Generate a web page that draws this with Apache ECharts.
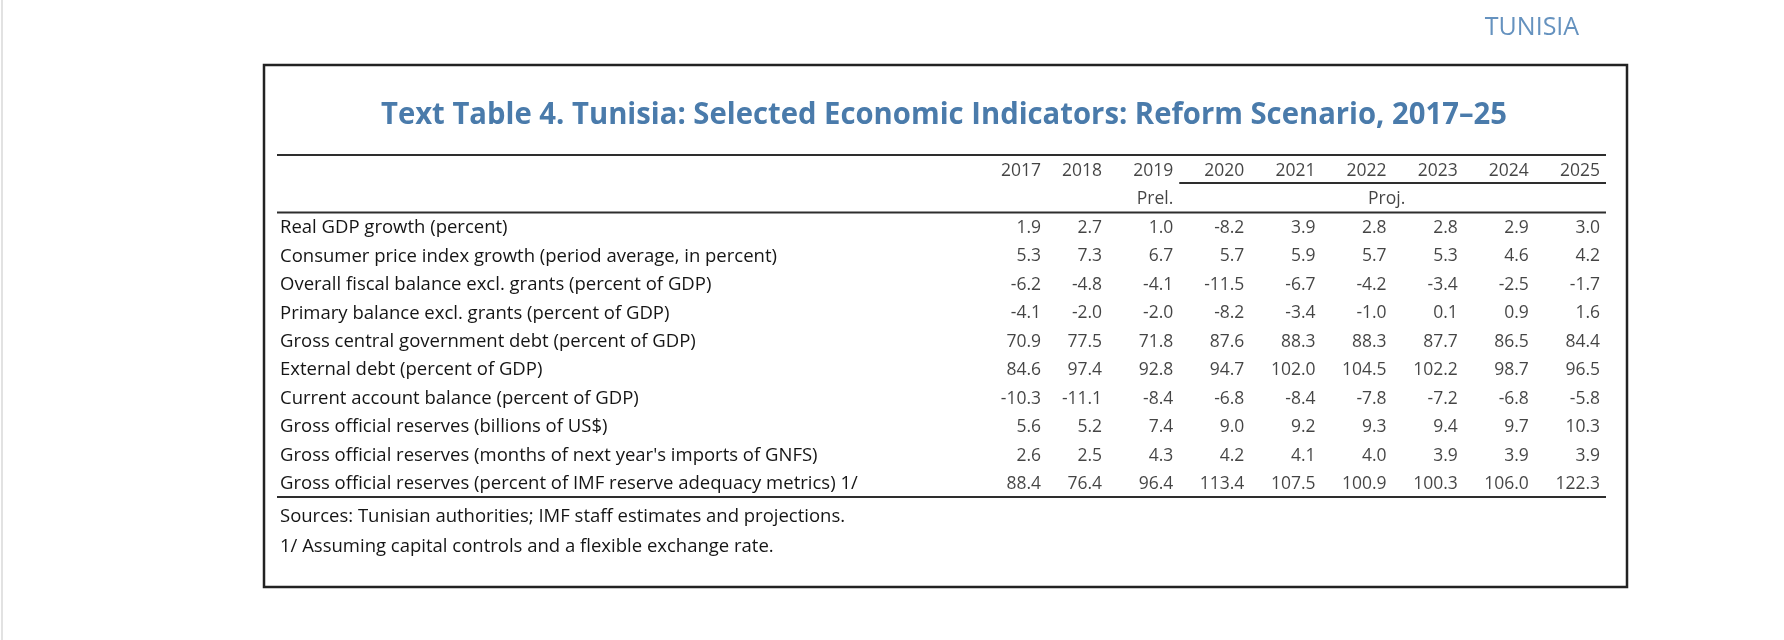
<!DOCTYPE html>
<html><head><meta charset="utf-8">
<script src="https://cdn.jsdelivr.net/npm/echarts@6/dist/echarts.min.js"></script>
<style>html,body{margin:0;padding:0;background:#fff}#c{width:1784px;height:640px}</style>
</head><body><div id="c"></div>
<script>
const years = ['2017','2018','2019','2020','2021','2022','2023','2024','2025'];
const statusNotes = ['', '', 'Prel.', '', '', 'Proj.', '', '', ''];
const indicators = [
  'Real GDP growth (percent)',
  'Consumer price index growth (period average, in percent)',
  'Overall fiscal balance excl. grants (percent of GDP)',
  'Primary balance excl. grants (percent of GDP)',
  'Gross central government debt (percent of GDP)',
  'External debt (percent of GDP)',
  'Current account balance (percent of GDP)',
  'Gross official reserves (billions of US$)',
  "Gross official reserves (months of next year's imports of GNFS)",
  'Gross official reserves (percent of IMF reserve adequacy metrics) 1/'
];
const realGdpGrowth   = [1.9, 2.7, 1.0, -8.2, 3.9, 2.8, 2.8, 2.9, 3.0];
const cpiGrowth       = [5.3, 7.3, 6.7, 5.7, 5.9, 5.7, 5.3, 4.6, 4.2];
const fiscalBalance   = [-6.2, -4.8, -4.1, -11.5, -6.7, -4.2, -3.4, -2.5, -1.7];
const primaryBalance  = [-4.1, -2.0, -2.0, -8.2, -3.4, -1.0, 0.1, 0.9, 1.6];
const govDebt         = [70.9, 77.5, 71.8, 87.6, 88.3, 88.3, 87.7, 86.5, 84.4];
const externalDebt    = [84.6, 97.4, 92.8, 94.7, 102.0, 104.5, 102.2, 98.7, 96.5];
const currentAccount  = [-10.3, -11.1, -8.4, -6.8, -8.4, -7.8, -7.2, -6.8, -5.8];
const reservesUsd     = [5.6, 5.2, 7.4, 9.0, 9.2, 9.3, 9.4, 9.7, 10.3];
const reservesMonths  = [2.6, 2.5, 4.3, 4.2, 4.1, 4.0, 3.9, 3.9, 3.9];
const reservesAdequacy= [88.4, 76.4, 96.4, 113.4, 107.5, 100.9, 100.3, 106.0, 122.3];
const rowValues = [realGdpGrowth, cpiGrowth, fiscalBalance, primaryBalance, govDebt,
  externalDebt, currentAccount, reservesUsd, reservesMonths, reservesAdequacy];
const titleText = 'Text Table 4. Tunisia: Selected Economic Indicators: Reform Scenario, 2017\u201325';
const pageHeader = 'TUNISIA';
const sourceNote = 'Sources: Tunisian authorities; IMF staff estimates and projections.';
const footNote = '1/ Assuming capital controls and a flexible exchange rate.';

const FONT = '"Open Sans", "Noto Sans", sans-serif';
const TXT = '#151515';
const FS = 18.5;
const FSN = 17.5;
const firstColShift = 10;

const chart = echarts.init(document.getElementById('c'), null, {renderer: 'canvas'});
const yCats = ['h0', 'h1'].concat(indicators);

const headerData = years.map((y, i) => ({value: [i, 0, y], label: i === 0 ? {offset: [firstColShift, 0]} : {}}));
const noteData = [];
statusNotes.forEach((n, i) => { if (n) noteData.push({value: [i, 1, n], label: n === 'Proj.' ? {align: 'center'} : {}}); });
const cellData = [];
rowValues.forEach((arr, r) => arr.forEach((v, c) => {
  cellData.push({value: [c, r + 2, v], label: c === 0 ? {offset: [firstColShift, 0]} : {}});
}));

const labelBase = {show: true, position: 'left', distance: 0, color: TXT, fontSize: FSN, fontFamily: FONT};

chart.setOption({
  animation: false,
  backgroundColor: '#fff',
  grid: {left: 1031, right: 184, top: 171, bottom: 156},
  xAxis: {type: 'category', data: years, boundaryGap: false, show: false},
  yAxis: {
    type: 'category', data: yCats, inverse: true, boundaryGap: false,
    axisLine: {show: false}, axisTick: {show: false}, splitLine: {show: false},
    axisLabel: {
      align: 'left', margin: 1031 - 280, color: TXT, fontSize: FS, fontFamily: FONT,
      formatter: (v, i) => i < 2 ? '' : v
    }
  },
  series: [
    {type: 'scatter', symbolSize: 0, silent: true, data: headerData,
     label: Object.assign({}, labelBase, {formatter: p => p.data.value[2]})},
    {type: 'scatter', symbolSize: 0, silent: true, data: noteData,
     label: Object.assign({}, labelBase, {formatter: p => p.data.value[2]})},
    {type: 'scatter', symbolSize: 0, silent: true, data: cellData,
     label: Object.assign({}, labelBase, {formatter: p => p.data.value[2].toFixed(1)})}
  ]
});

const px = (c, r) => chart.convertToPixel({gridIndex: 0}, [c, r]);
const yYears = px(0, 0)[1];
const yNotes = px(0, 1)[1];
const yLast = px(0, yCats.length - 1)[1];
const xEnd = px(years.length - 1, 0)[0] + 6;
const xSub = px(2, 0)[0] + 6;
const xStart = 277;
const ruleStyle = {stroke: '#2e2e2e', lineWidth: 2};

chart.setOption({
  graphic: [
    {type: 'rect', shape: {x: 264, y: 65, width: 1363, height: 522}, style: {fill: 'none', stroke: '#222', lineWidth: 2.5}},
    {type: 'line', shape: {x1: 2, y1: 0, x2: 2, y2: 640}, style: {stroke: '#e2e2e2', lineWidth: 2}},
    {type: 'text', x: 944, y: 115, scaleX: 0.975, style: {text: titleText, fontSize: 30, fontWeight: 'bold', fontFamily: FONT, fill: '#4a7bab', align: 'center', verticalAlign: 'middle'}},
    {type: 'text', x: 1532, y: 28, style: {text: pageHeader, fontSize: 25, fontFamily: FONT, fill: '#6592bf', align: 'center', verticalAlign: 'middle'}},
    {type: 'line', shape: {x1: xStart, y1: yYears - 16, x2: xEnd, y2: yYears - 16}, style: ruleStyle},
    {type: 'line', shape: {x1: xSub, y1: yYears + 12, x2: xEnd, y2: yYears + 12}, style: ruleStyle},
    {type: 'line', shape: {x1: xStart, y1: yNotes + 13, x2: xEnd, y2: yNotes + 13}, style: ruleStyle},
    {type: 'line', shape: {x1: xStart, y1: yLast + 13, x2: xEnd, y2: yLast + 13}, style: ruleStyle},
    {type: 'text', x: 280, y: 517, style: {text: sourceNote, fontSize: FS, fontFamily: FONT, fill: TXT, align: 'left', verticalAlign: 'middle'}},
    {type: 'text', x: 280, y: 547, style: {text: footNote, fontSize: FS, fontFamily: FONT, fill: TXT, align: 'left', verticalAlign: 'middle'}}
  ]
});
</script></body></html>
